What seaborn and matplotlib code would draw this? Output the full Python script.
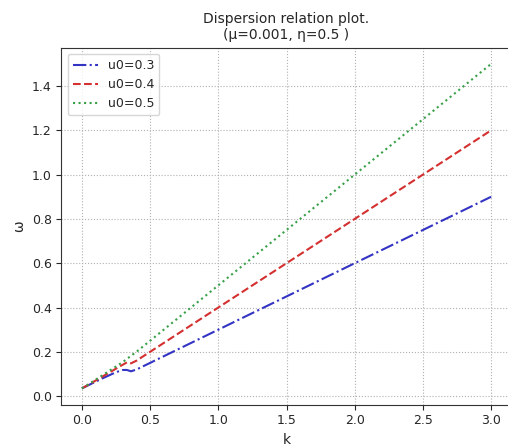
import matplotlib
matplotlib.use("Agg")
import matplotlib.pyplot as plt
import seaborn as sns
import pandas as pd

k = [0.0, 0.05, 0.1, 0.15, 0.2, 0.25, 0.3, 0.33, 0.36, 0.4, 0.5, 0.75, 1.0, 1.5, 2.0, 2.5, 3.0]
w_03 = [0.035, 0.05, 0.065, 0.08, 0.094, 0.108, 0.118, 0.118, 0.112, 0.12, 0.15, 0.225, 0.30, 0.45, 0.60, 0.75, 0.90]
w_04 = [0.035, 0.052, 0.07, 0.088, 0.106, 0.124, 0.142, 0.152, 0.148, 0.16, 0.20, 0.30, 0.40, 0.60, 0.80, 1.00, 1.20]
w_05 = [0.035, 0.054, 0.074, 0.094, 0.114, 0.134, 0.154, 0.168, 0.182, 0.20, 0.25, 0.375, 0.50, 0.75, 1.00, 1.25, 1.50]
labels = ["u0=0.3", "u0=0.4", "u0=0.5"]
title = "Dispersion relation plot.\n(μ=0.001, η=0.5 )"

series = [w_03, w_04, w_05]
colors = ["#3434c4", "#d43030", "#38a048"]
styles = ["-.", "--", ":"]

sns.set_style("ticks")
plt.rcParams["font.family"] = ["DejaVu Sans"]

fig = plt.figure(figsize=(5.08, 4.46), dpi=100)
ax = fig.add_axes([0.121, 0.093, 0.886, 0.800])

for w, lab, c, ls in zip(series, labels, colors, styles):
    df = pd.DataFrame({"k": k, "w": w})
    sns.lineplot(data=df, x="k", y="w", ax=ax, color=c, linestyle=ls, label=lab, linewidth=1.5)

ax.set_xticks([0.0, 0.5, 1.0, 1.5, 2.0, 2.5, 3.0])
ax.set_yticks([0.0, 0.2, 0.4, 0.6, 0.8, 1.0, 1.2, 1.4])
ax.set_xlim(-0.15, 3.15)
ax.set_ylim(-0.038, 1.573)
ax.grid(True, linestyle=":", color="#b0b0b0", linewidth=0.8)
ax.set_xlabel("k")
ax.set_ylabel("ω")
ax.set_title(title, fontsize=10)
ax.tick_params(labelsize=9)
ax.legend(loc="upper left", fontsize=9)
for s in ax.spines.values():
    s.set_color("#333333")

fig.savefig("out.png", dpi=100)
